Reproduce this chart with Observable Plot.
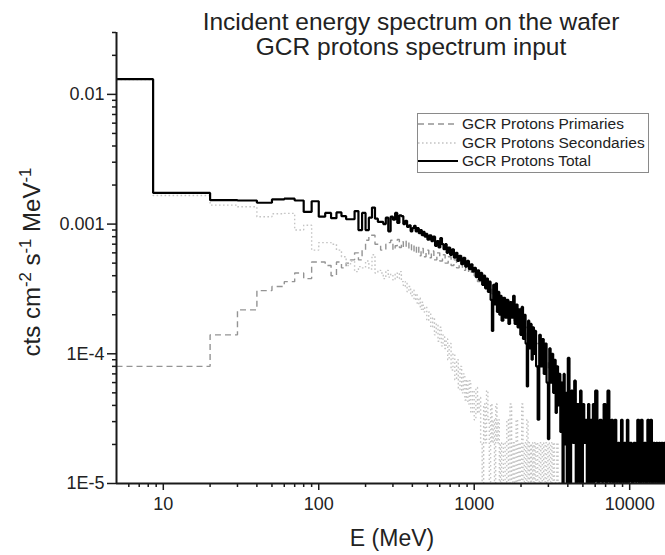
<!DOCTYPE html>
<html><head><meta charset="utf-8">
<script src="https://cdn.jsdelivr.net/npm/d3@7"></script>
<script src="https://cdn.jsdelivr.net/npm/@observablehq/plot@0.6"></script>
<style>
body{margin:0;background:#fff;font-family:"Liberation Sans",Arial,sans-serif;color:#222;}
#wrap{position:relative;width:665px;height:555px;overflow:hidden;background:#fff;}
#wrap > svg{position:absolute;left:0;top:0;}
.title{position:absolute;left:411px;transform:translateX(-50%);white-space:nowrap;font-size:24.5px;line-height:28px;color:#222;}
#xlabel{position:absolute;left:392px;top:525px;transform:translateX(-50%);font-size:23px;white-space:nowrap;}
#ylabel{position:absolute;left:32px;top:262px;transform:translate(-50%,-50%) rotate(-90deg);font-size:24px;white-space:nowrap;}
#ylabel sup{font-size:0.7em;vertical-align:0.55em;line-height:0;}
#legend{position:absolute;left:417px;top:113px;width:232px;height:60px;border:1px solid #8a8a8a;box-sizing:border-box;background:#fff;}
#wrap .lrow{position:absolute;left:0;height:18px;display:flex;align-items:center;font-size:15.5px;white-space:nowrap;}
#wrap .lrow svg{position:static;margin-right:4px;flex:none;}
</style></head><body>
<div id="wrap">
  <div class="title" style="top:8px">Incident energy spectrum on the wafer</div>
  <div class="title" style="top:33px">GCR protons spectrum input</div>
  <div id="xlabel">E (MeV)</div>
  <div id="ylabel">cts cm<sup>-2</sup> s<sup>-1</sup> MeV<sup>-1</sup></div>
</div>
<script>
// Axis setup
const xDomain = [5, 17000];
const yDomain = [1e-5, 0.03];
const xTicks = [10, 100, 1000, 10000];
const xTickLabels = ["10", "100", "1000", "10000"];
const yTicks = [1e-5, 1e-4, 1e-3, 1e-2];
const yTickLabels = ["1E-5", "1E-4", "0.001", "0.01"];

// Series: [bin start energy (MeV), cts cm^-2 s^-1 MeV^-1]; 0 = empty bin
const total = [
[5,0.0131],[8.6,0.00174],[20,0.00153],[30,0.00152],[40,0.00146],[50,0.00155],[60,0.00157],[70,0.00152],[80,0.00124],[90,0.0015],
[100,0.00114],[110,0.00122],[120,0.00111],[130,0.00123],[140,0.00115],[150,0.00109],[160,0.00109],[170,0.00126],[180,0.0009],[190,0.00122],
[200,0.0009],[210,0.00112],[220,0.00134],[230,0.0011],[240,0.00104],[250,0.00104],[260,0.001],[270,0.00112],[280,0.00088],[290,0.00114],
[300,0.00108],[310,0.00122],[320,0.00102],[330,0.00117],[340,0.00115],[350,0.001],[360,0.00106],[370,0.00095],[380,0.00098],[390,0.00088],
[400,0.00093],[410,0.00097],[420,0.00088],[430,0.00093],[440,0.00085],[450,0.0009],[460,0.00082],[470,0.00087],[480,0.0008],[490,0.00084],
[500,0.00076],[515,0.00082],[530,0.00074],[545,0.0008],[560,0.00068],[575,0.00074],[590,0.00066],[605,0.00078],[620,0.0007],[635,0.00064],
[650,0.0007],[665,0.0006],[680,0.00066],[700,0.00058],[720,0.00064],[740,0.00055],[760,0.0006],[780,0.00052],[800,0.00057],[825,0.00049],
[850,0.00055],[875,0.00047],[900,0.00052],[925,0.00045],[950,0.00049],[975,0.00043],
[1000,4.6e-4],[1025,3.9e-4],[1050,4.4e-4],[1075,3.7e-4],[1100,4.2e-4],[1125,3.4e-4],[1150,4.0e-4],[1175,3.2e-4],[1200,3.8e-4],[1225,3.0e-4],
[1250,3.6e-4],[1275,2.6e-4],[1300,1.5e-4],[1325,3.4e-4],[1350,2.4e-4],[1375,3.5e-4],[1400,2.1e-4],[1425,3.0e-4],[1450,2.0e-4],[1475,2.8e-4],
[1500,1.8e-4],[1540,2.7e-4],[1580,1.9e-4],[1620,2.6e-4],[1660,1.7e-4],[1700,2.5e-4],[1740,1.9e-4],[1780,2.8e-4],[1820,1.7e-4],[1860,2.4e-4],
[1900,1.6e-4],[1940,2.2e-4],[1980,1.4e-4],[2020,2.3e-4],[2060,1.3e-4],[2100,2.0e-4],[2140,1.2e-4],[2180,5.6e-5],[2220,1.8e-4],[2260,1.1e-4],
[2300,1.7e-4],[2340,9e-5],[2380,1.6e-4],[2420,1.0e-4],[2460,1.5e-4],
[2500,8e-5],[2560,3.1e-5],[2620,1.4e-4],[2680,8e-5],[2740,1.3e-4],[2800,7e-5],[2860,1.2e-4],[2920,6e-5],[2980,2.2e-5],[3040,1.1e-4],
[3100,6e-5],[3160,1.0e-4],[3220,5e-5],[3280,9e-5],[3340,3.5e-5],[3400,8e-5],[3460,4e-5],[3520,7e-5],[3580,2.5e-5],[3640,6e-5],
[3700,0],[3760,7e-5],[3820,2e-5],[3880,5e-5],[3940,0],
[4000,9.3e-5],[4100,0],[4200,5.2e-5],[4300,2.06e-5],[4400,6.2e-5],[4500,0],[4600,4.1e-5],[4700,1.03e-5],[4800,5.2e-5],[4900,0],
[5000,4.1e-5],[5100,2.06e-5],[5200,3.1e-5],[5300,0],[5400,4.1e-5],[5500,1.03e-5],[5600,3.1e-5],[5700,0],[5800,4.1e-5],[5900,1.03e-5],
[6000,5.2e-5],[6200,0],[6400,3.1e-5],[6600,1.03e-5],[6800,4.1e-5],[7000,0],[7200,5.2e-5],[7400,1.03e-5],[7600,3.1e-5],[7800,0],
[8000,3.1e-5],[8200,1.03e-5],[8400,2.06e-5],[8600,0],[8800,3.1e-5],[9000,1.03e-5],[9200,2.06e-5],[9400,0],[9600,3.1e-5],[9800,1.03e-5],
[10000,2.06e-5],[10300,0],[10600,2.06e-5],[10900,1.03e-5],[11200,3.1e-5],[11500,0],[11800,3.1e-5],[12100,1.03e-5],[12400,2.06e-5],[12700,0],
[13000,3.1e-5],[13300,1.03e-5],[13600,3.1e-5],[13900,0],[14200,2.06e-5],[14500,1.03e-5],[14800,2.06e-5],[15100,0],[15400,2.06e-5],[15700,1.03e-5],
[16000,2.06e-5],[16300,0],[16600,2.06e-5],[16900,1.03e-5],[17000,2.06e-5]
];

const primaries = [
[5,8.0e-5],[20,1.4e-4],[30,2.18e-4],[40,3.07e-4],[50,3.3e-4],[60,3.6e-4],[70,4.2e-4],[80,3.8e-4],[90,5.1e-4],[100,5.1e-4],
[110,4.8e-4],[120,4.0e-4],[130,5.1e-4],[140,4.6e-4],[150,5.0e-4],[160,5.3e-4],[170,6.0e-4],[180,5.3e-4],[190,6.3e-4],[200,7.5e-4],
[210,8.2e-4],[220,8.2e-4],[230,7.0e-4],[240,7.0e-4],[250,6.3e-4],[260,6.3e-4],[270,7.0e-4],[280,7.2e-4],[290,7.5e-4],[300,6.3e-4],
[310,6.8e-4],[320,7.6e-4],[330,6.6e-4],[340,7.3e-4],[350,6.6e-4],[365,7.4e-4],[380,6.3e-4],[395,7.0e-4],[410,6.0e-4],[425,6.8e-4],
[440,5.7e-4],[455,6.5e-4],[470,5.6e-4],[490,6.3e-4],[510,5.5e-4],[530,6.2e-4],[550,5.3e-4],[575,6.0e-4],[600,5.2e-4],[625,5.8e-4],
[650,5.0e-4],[680,5.6e-4],[710,4.8e-4],[740,5.3e-4],[770,4.6e-4],[800,5.0e-4],[840,4.4e-4],[880,4.8e-4],[920,4.2e-4],[960,4.5e-4],
[1000,4.0e-4],[1050,3.6e-4],[1100,3.8e-4],[1200,3.2e-4],[1300,2.9e-4],[1400,2.6e-4],[1500,2.3e-4],[1650,2.0e-4],[1800,1.8e-4],[2000,1.6e-4],
[2200,1.3e-4],[2400,1.2e-4],[2700,9e-5],[3000,7.5e-5],[3400,6e-5],[3800,4.5e-5],[4500,3.5e-5],[5500,2.5e-5],[7000,2.06e-5],[9000,1.5e-5],
[12000,1.2e-5],[16900,1.03e-5],[17000,1.03e-5]
];

const secondaries = [
[5,0.013],[8.6,0.00166],[20,0.0014],[30,0.00136],[40,0.00114],[50,0.0012],[60,0.00121],[70,0.0009],[80,0.00098],[90,0.00063],
[100,0.00072],[110,0.00072],[120,0.0007],[130,0.00063],[140,0.00056],[150,0.00048],[160,0.00052],[170,0.00043],[180,0.00047],[190,0.00046],
[200,0.00052],[210,0.00045],[220,0.00058],[230,0.00042],[240,0.00044],[250,4.2e-4],[260,3.8e-4],[270,4.4e-4],[280,3.9e-4],[290,4.1e-4],
[300,3.7e-4],[310,4.2e-4],[320,3.8e-4],[330,4.3e-4],[340,3.6e-4],[350,3.3e-4],[360,3.6e-4],[370,3.0e-4],[380,3.3e-4],[390,2.8e-4],
[400,3.1e-4],[410,2.6e-4],[420,2.9e-4],[430,2.4e-4],[440,2.7e-4],[450,2.2e-4],[460,2.5e-4],[470,2.1e-4],[480,2.3e-4],[495,1.8e-4],
[510,2.1e-4],[525,1.6e-4],[540,1.9e-4],[555,1.4e-4],[570,1.7e-4],[585,1.25e-4],[600,1.6e-4],[615,1.15e-4],[630,1.4e-4],[645,1.1e-4],
[660,1.3e-4],[675,9e-5],[690,1.2e-4],[710,7.5e-5],[730,1.0e-4],[750,6.3e-5],[770,9e-5],[790,5.3e-5],[810,8e-5],[830,5e-5],
[850,7e-5],[870,4.4e-5],[890,6.3e-5],[910,4.1e-5],[930,6.2e-5],[950,3.5e-5],[975,5.2e-5],[1000,3.1e-5],[1025,5.5e-5],[1050,3.5e-5],
[1075,4.6e-5],[1100,2.06e-5],[1125,0],[1150,4.1e-5],[1175,2.06e-5],[1200,5.2e-5],[1225,3.1e-5],[1250,1.03e-5],[1275,4.1e-5],[1300,2.06e-5],
[1325,3.1e-5],[1350,0],[1375,4.1e-5],[1400,2.06e-5],[1425,3.1e-5],[1450,1.03e-5],[1475,2.06e-5],[1500,0],[1540,2.06e-5],[1580,1.03e-5],
[1620,3.1e-5],[1660,0],[1700,4.1e-5],[1740,1.03e-5],[1780,2.06e-5],[1820,0],[1860,3.1e-5],[1900,1.03e-5],[1940,2.06e-5],[1980,0],
[2020,4.1e-5],[2060,1.03e-5],[2100,2.06e-5],[2140,0],[2180,3.1e-5],[2220,1.03e-5],[2260,2.06e-5],[2300,0],[2340,2.06e-5],[2380,1.03e-5],
[2420,2.06e-5],[2460,0],[2500,2.06e-5],[2560,1.03e-5],[2620,2.06e-5],[2680,0],[2740,2.06e-5],[2800,1.03e-5],[2860,2.06e-5],[2920,0],
[2980,2.06e-5],[3040,1.03e-5],[3100,2.06e-5],[3160,0],[3220,2.06e-5],[3280,0],[3340,1.03e-5],[3400,2.06e-5],[3460,0],[3520,1.03e-5],
[3580,0],[3640,1.03e-5],[3700,0],[3770,0]
];

const seriesNames = ["GCR Protons Primaries", "GCR Protons Secondaries", "GCR Protons Total"];
const seriesStyle = [
  {stroke: "#949494", strokeWidth: 1.4, dash: "6,4"},
  {stroke: "#c4c4c4", strokeWidth: 1.4, dash: "1.6,2.4"},
  {stroke: "#000000", strokeWidth: 2.2, dash: null}
];

// Minor tick positions (2..9 times each power of ten within the domain)
const minorX = [];
for (let p = 0; p <= 4; p++) for (let k = 2; k <= 9; k++) {
  const v = k * Math.pow(10, p);
  if (v > xDomain[0] && v < xDomain[1] && !xTicks.includes(v)) minorX.push(v);
}
const minorY = [];
for (let p = -5; p <= -2; p++) for (let k = 2; k <= 9; k++) {
  const v = k * Math.pow(10, p);
  if (v > yDomain[0] && v <= yDomain[1] * 1.0001) minorY.push(v);
}

const FLOOR = 1e-7; // empty bins are drawn below the axis and clipped
const yv = d => (d[1] > 0 ? d[1] : FLOOR);

function seriesLine(data, s) {
  const o = {x: d => d[0], y: yv, curve: "step-after", stroke: s.stroke, strokeWidth: s.strokeWidth, clip: true, strokeLinejoin: "miter", strokeLinecap: "butt"};
  if (s.dash) o.strokeDasharray = s.dash;
  return Plot.line(data, o);
}

const axisColor = "#1a1a1a";
const chart = Plot.plot({
  width: 665, height: 555,
  marginLeft: 116, marginRight: 0, marginTop: 32, marginBottom: 72,
  style: {fontFamily: "Liberation Sans, Arial, sans-serif", background: "transparent", color: "#222"},
  x: {type: "log", domain: xDomain, label: null},
  y: {type: "log", domain: yDomain, label: null},
  marks: [
    seriesLine(primaries, seriesStyle[0]),
    seriesLine(secondaries, seriesStyle[1]),
    seriesLine(total, seriesStyle[2]),
    Plot.axisX(minorX, {tickSize: 4, tickFormat: () => "", stroke: axisColor, strokeWidth: 1.5, label: null}),
    Plot.axisX(xTicks, {tickSize: 7, tickPadding: 7, tickFormat: d => xTickLabels[xTicks.indexOf(d)], fontSize: 18, stroke: axisColor, strokeWidth: 1.5, label: null}),
    Plot.axisY(minorY, {tickSize: 4, tickFormat: () => "", stroke: axisColor, strokeWidth: 1.5, label: null}),
    Plot.axisY(yTicks, {tickSize: 9, tickPadding: 3, tickFormat: d => yTickLabels[yTicks.indexOf(d)], fontSize: 18, stroke: axisColor, strokeWidth: 1.5, label: null}),
    Plot.ruleX([xDomain[0]], {stroke: axisColor, strokeWidth: 2}),
    Plot.ruleY([yDomain[0]], {stroke: axisColor, strokeWidth: 2})
  ]
});
const wrap = document.getElementById("wrap");
wrap.insertBefore(chart, wrap.firstChild);

// Legend
const legend = document.createElement("div");
legend.id = "legend";
seriesNames.forEach((name, i) => {
  const s = seriesStyle[i];
  const row = document.createElement("div");
  row.className = "lrow";
  row.style.top = (1 + i * 18.5) + "px";
  const ns = "http://www.w3.org/2000/svg";
  const svg = document.createElementNS(ns, "svg");
  svg.setAttribute("width", "40"); svg.setAttribute("height", "10");
  const ln = document.createElementNS(ns, "line");
  ln.setAttribute("x1", "0"); ln.setAttribute("x2", "40"); ln.setAttribute("y1", "5"); ln.setAttribute("y2", "5");
  ln.setAttribute("stroke", s.stroke); ln.setAttribute("stroke-width", s.strokeWidth);
  if (s.dash) ln.setAttribute("stroke-dasharray", s.dash);
  svg.appendChild(ln);
  row.appendChild(svg);
  const t = document.createElement("span");
  t.textContent = name;
  row.appendChild(t);
  legend.appendChild(row);
});
wrap.appendChild(legend);
</script>
</body></html>
